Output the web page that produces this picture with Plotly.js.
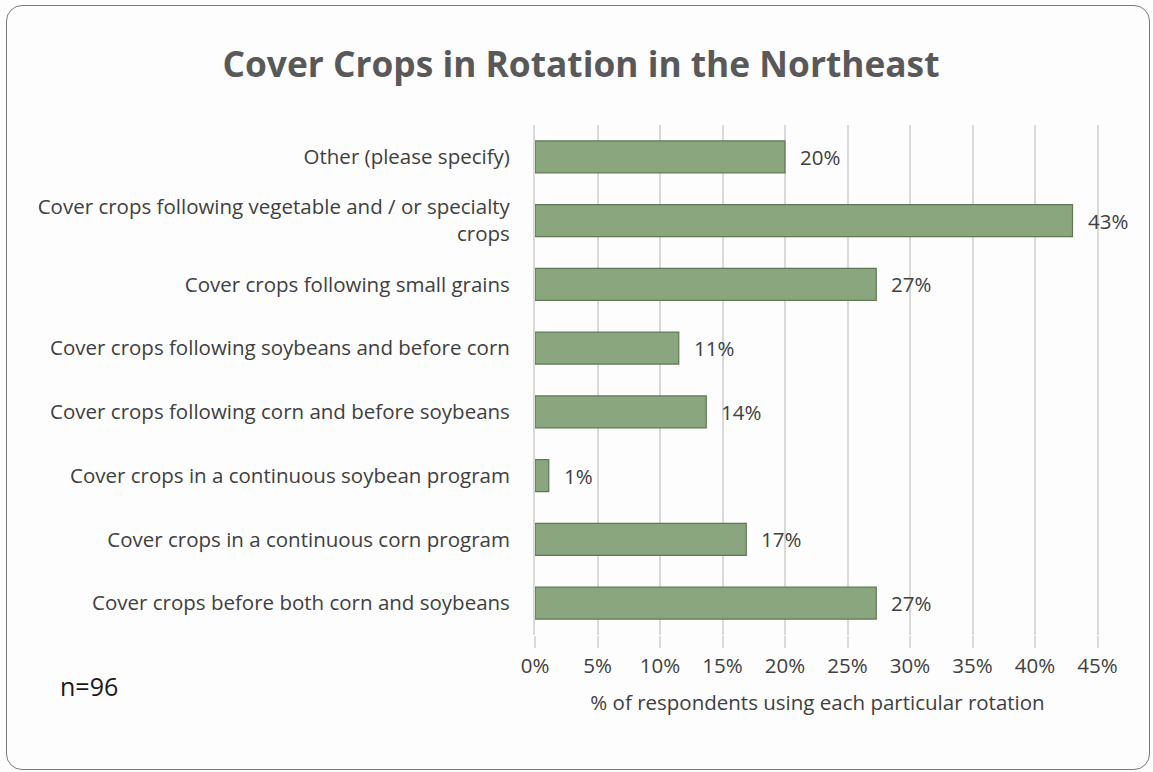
<!DOCTYPE html>
<html>
<head>
<meta charset="utf-8">
<script src="https://cdn.plot.ly/plotly-3.0.1.min.js"></script>
<style>
html,body{margin:0;padding:0;background:#ffffff;}
#wrap{position:relative;width:1153px;height:772px;overflow:hidden;}
#chart{position:absolute;left:0;top:0;width:1153px;height:772px;}
#frame{position:absolute;left:6px;top:5px;width:1142px;height:763px;border:1.5px solid #7a7a7a;border-radius:16px;pointer-events:none;}
</style>
</head>
<body>
<div id="wrap"><div id="chart"></div><div id="frame"></div></div>
<script>
// Categories listed bottom to top (as drawn on the horizontal bar chart)
const categories = [
  "Cover crops before both corn and soybeans",
  "Cover crops in a continuous corn program",
  "Cover crops in a continuous soybean program",
  "Cover crops following corn and before soybeans",
  "Cover crops following soybeans and before corn",
  "Cover crops following small grains",
  "Cover crops following vegetable and / or specialty<br>crops",
  "Other (please specify)"
];
const percentValues = [27.3, 16.9, 1.1, 13.7, 11.5, 27.3, 43.0, 20.0];
const valueLabels = ["27%", "17%", "1%", "14%", "11%", "27%", "43%", "20%"];
const xTickValues = [0, 5, 10, 15, 20, 25, 30, 35, 40, 45];
const xTickLabels = ["0%", "5%", "10%", "15%", "20%", "25%", "30%", "35%", "40%", "45%"];
const titleText = "Cover Crops in Rotation in the Northeast";
const xAxisTitle = "% of respondents using each particular rotation";
const sampleNote = "n=96";

const FONT = "'Open Sans', Lato, sans-serif";

const W = 1153, H = 772, ML = 535, MR = 53, MT = 125, MB = 137;
const pw = W - ML - MR, ph = H - MT - MB;

const trace = {
  type: "bar",
  orientation: "h",
  x: percentValues,
  y: categories,
  width: 0.5,
  marker: {color: "#8aa67f", line: {color: "#5d7853", width: 1.2}},
  hoverinfo: "x+y"
};

const annotations = percentValues.map((v, i) => ({
  x: v, y: categories[i], xref: "x", yref: "y",
  text: valueLabels[i], showarrow: false,
  xanchor: "left", yanchor: "middle", xshift: 13,
  font: {family: FONT, size: 20.5, color: "#404040"}
}));
annotations.push({
  x: (58 - ML) / pw, y: (H - MB - 686) / ph, xref: "paper", yref: "paper",
  text: sampleNote, showarrow: false, xanchor: "left", yanchor: "middle",
  font: {family: FONT, size: 25, color: "#1a1a1a"}
});

const layout = {
  width: W, height: H,
  margin: {l: ML, r: MR, t: MT, b: MB, pad: 0},
  paper_bgcolor: "#fdfdfd",
  plot_bgcolor: "#fdfdfd",
  showlegend: false,
  title: {
    text: "<b>" + titleText + "</b>",
    font: {family: FONT, size: 35.3, color: "#595959"},
    x: 581 / W, xanchor: "center", xref: "container",
    y: 1 - 65 / H, yanchor: "middle", yref: "container"
  },
  xaxis: {
    range: [0, 45.2],
    tickvals: xTickValues, ticktext: xTickLabels,
    showgrid: true, gridcolor: "#d9d9d9", gridwidth: 2,
    ticks: "outside", ticklen: 12, tickwidth: 2, tickcolor: "#d9d9d9",
    zeroline: false, showline: false,
    tickfont: {family: FONT, size: 20.5, color: "#404040"},
    title: {text: xAxisTitle, font: {family: FONT, size: 20.5, color: "#404040"}, standoff: 18},
    fixedrange: true
  },
  yaxis: {
    type: "category",
    categoryorder: "array", categoryarray: categories,
    showgrid: false, zeroline: false,
    showline: true, linecolor: "#d9d9d9", linewidth: 2,
    ticks: "", ticklen: 0,
    tickfont: {family: FONT, size: 20.5, color: "#404040"},
    ticklabelstandoff: 19,
    fixedrange: true
  },
  annotations: annotations,
  bargap: 0.5
};

Plotly.newPlot("chart", [trace], layout, {displayModeBar: false, staticPlot: true});
</script>
</body>
</html>
